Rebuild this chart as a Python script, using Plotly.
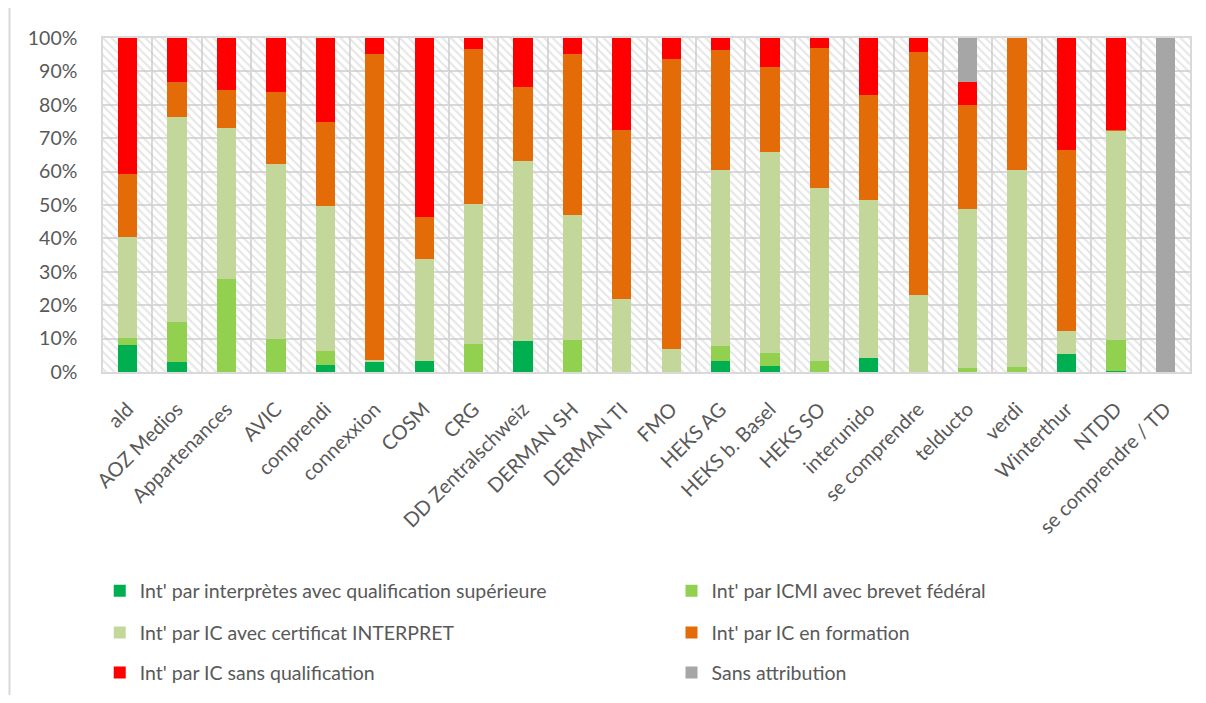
import plotly.graph_objects as go

categories = [
    "ald", "AOZ Medios", "Appartenances", "AVIC", "comprendi", "connexxion",
    "COSM", "CRG", "DD Zentralschweiz", "DERMAN SH", "DERMAN TI", "FMO",
    "HEKS AG", "HEKS b. Basel", "HEKS SO", "interunido", "se comprendre",
    "telducto", "verdi", "Winterthur", "NTDD", "se comprendre / TD",
]

# shares in percent per organisation
sup_qualif = [8.2, 3.0, 0, 0, 2.0, 3.0, 3.4, 0, 9.3, 0, 0, 0,
              3.3, 1.9, 0, 4.2, 0, 0, 0, 5.4, 0.3, 0]
icmi_brevet = [2.0, 12.0, 27.9, 10.0, 4.3, 0, 0, 8.4, 0, 9.5, 0, 0,
               4.5, 3.8, 3.3, 0, 0, 1.2, 1.4, 0, 9.2, 0]
ic_certificat = [30.3, 61.2, 45.2, 52.2, 43.5, 0.5, 30.5, 42.0, 53.9, 37.4, 21.8, 6.9,
                 52.8, 60.2, 51.7, 47.3, 23.1, 47.6, 59.1, 6.9, 62.8, 0]
ic_formation = [18.8, 10.5, 11.2, 21.7, 25.1, 91.6, 12.5, 46.4, 22.2, 48.2, 50.7, 86.9,
                35.9, 25.5, 42.1, 31.5, 72.8, 31.2, 39.5, 54.2, 0.3, 0]
ic_sans_qualif = [40.7, 13.3, 15.7, 16.1, 25.1, 4.9, 53.6, 3.2, 14.6, 4.9, 27.5, 6.2,
                  3.5, 8.6, 2.9, 17.0, 4.1, 6.7, 0, 33.5, 27.4, 0]
sans_attribution = [0, 0, 0, 0, 0, 0, 0, 0, 0, 0, 0, 0,
                    0, 0, 0, 0, 0, 13.3, 0, 0, 0, 100]

series = [
    ("Int' par interprètes avec qualification supérieure", sup_qualif, "#00B050"),
    ("Int' par ICMI avec brevet fédéral", icmi_brevet, "#92D050"),
    ("Int' par IC avec certificat INTERPRET", ic_certificat, "#C4D79B"),
    ("Int' par IC en formation", ic_formation, "#E36C09"),
    ("Int' par IC sans qualification", ic_sans_qualif, "#FF0000"),
    ("Sans attribution", sans_attribution, "#A6A6A6"),
]

# legend grid: two columns, three rows (one small legend per entry)
legend_cols = [-0.003, 0.523]
legend_rows = [-0.656, -0.781, -0.901]

fig = go.Figure()

# hatched plot-area background
fig.add_trace(go.Bar(
    x=categories,
    y=[100] * len(categories),
    width=1,
    marker=dict(
        color="rgba(0,0,0,0)",
        line_width=0,
        pattern=dict(shape="\\", fgcolor="#CCCCCC", bgcolor="rgba(0,0,0,0)",
                     size=6, solidity=0.35),
    ),
    showlegend=False,
    hoverinfo="skip",
))

legends = {}
for i, (name, values, color) in enumerate(series):
    key = "legend" if i == 0 else f"legend{i + 1}"
    fig.add_trace(go.Bar(
        x=categories,
        y=values,
        name=name,
        marker=dict(color=color, line_width=0),
        xaxis="x2",
        legend=key,
    ))
    legends[key] = dict(
        x=legend_cols[i % 2],
        y=legend_rows[i // 2],
        xanchor="left",
        yanchor="middle",
        font=dict(size=19.5, color="#595959"),
        bgcolor="rgba(0,0,0,0)",
    )

fig.update_layout(
    width=1190,
    height=687,
    barmode="stack",
    bargap=0.61,
    plot_bgcolor="white",
    paper_bgcolor="white",
    font=dict(family="Lato", size=18, color="#595959"),
    margin=dict(l=95, r=8, t=30, b=323, autoexpand=False),
    xaxis=dict(
        tickangle=-45,
        tickson="boundaries",
        showgrid=True,
        gridcolor="#D9D9D9",
        gridwidth=1.5,
        ticks="",
        showline=True,
        linecolor="#D9D9D9",
        linewidth=1.5,
        mirror=True,
        automargin=False,
        ticklabelstandoff=16,
        tickfont=dict(size=20),
    ),
    xaxis2=dict(
        overlaying="x",
        matches="x",
        visible=False,
    ),
    yaxis=dict(
        range=[0, 100],
        dtick=10,
        ticksuffix="%",
        showgrid=True,
        gridcolor="#D9D9D9",
        gridwidth=1.5,
        zeroline=False,
        ticks="",
        showline=True,
        linecolor="#D9D9D9",
        linewidth=1.5,
        mirror=True,
        automargin=False,
        ticklabelstandoff=20,
        tickfont=dict(size=19.5),
    ),
    shapes=[dict(
        type="line", xref="paper", yref="paper",
        x0=-0.086, x1=-0.086, y0=-1.2, y1=1.2,
        line=dict(color="#D9D9D9", width=2),
    )],
    **legends,
)

fig.write_html("out.html")
